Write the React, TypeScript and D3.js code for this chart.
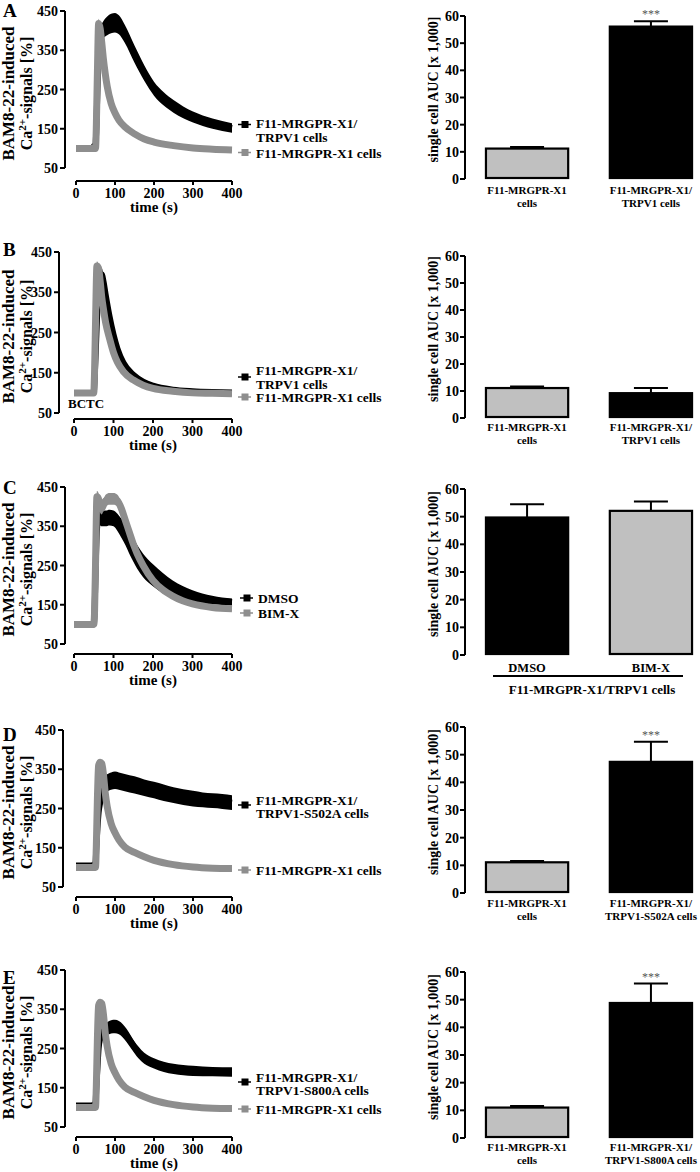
import React from 'react';
import * as d3 from 'd3';

const FONT = '"Liberation Serif", "Times New Roman", serif';
const BLACK = '#000000';
const GRAY = '#8e8e8e';
const BAR_GRAY = '#c0c0c0';

// ---------- line chart data (time in s, signal in %) ----------
const tA_trpv = [0, 44, 46, 50, 52, 55, 58, 62, 66, 70, 80, 90, 100, 110, 125, 150, 175, 200, 225, 250, 275, 300, 350, 400];
const mA_trpv = [100, 100, 107, 107, 150, 250, 330, 385, 395, 402, 412, 418, 420, 415, 392, 340, 292, 252, 226, 207, 192, 180, 163, 152];
const sA_trpv = [2, 2, 2, 2, 40, 50, 40, 25, 22, 22, 24, 25, 25, 24, 23, 22, 20, 18, 17, 16, 15, 14, 13, 12];

const tA_x1 = [0, 44, 50, 52, 55, 58, 62, 66, 70, 75, 80, 90, 100, 110, 125, 150, 175, 200, 250, 300, 350, 400];
const mA_x1 = [100, 100, 100, 150, 300, 418, 405, 370, 330, 290, 258, 215, 190, 172, 155, 137, 124, 116, 107, 101, 98, 96];
const sA_x1 = [3, 3, 3, 40, 60, 12, 8, 7, 6, 6, 5, 5, 4, 4, 4, 3, 3, 3, 3, 3, 3, 3];

const tB_trpv = [0, 44, 46, 50, 52, 55, 58, 62, 66, 70, 75, 80, 90, 100, 110, 125, 150, 175, 200, 250, 300, 350, 400];
const mB_trpv = [100, 100, 100, 100, 130, 200, 280, 350, 390, 395, 375, 345, 290, 245, 210, 175, 145, 128, 118, 108, 104, 102, 101];
const sB_trpv = [2, 2, 2, 2, 30, 40, 40, 30, 20, 15, 15, 15, 13, 12, 10, 8, 6, 5, 4, 3, 3, 3, 3];

const tB_x1 = [0, 44, 50, 52, 55, 58, 62, 66, 70, 75, 80, 90, 100, 110, 125, 150, 175, 200, 250, 300, 350, 400];
const mB_x1 = [100, 100, 100, 150, 300, 415, 410, 380, 340, 305, 275, 235, 200, 176, 153, 132, 119, 111, 104, 100, 99, 98];
const sB_x1 = [3, 3, 3, 40, 60, 12, 10, 8, 7, 6, 6, 5, 5, 4, 4, 3, 3, 3, 3, 3, 3, 3];

const tC_dmso = [0, 44, 50, 52, 55, 58, 62, 66, 70, 80, 90, 100, 110, 120, 130, 140, 150, 160, 175, 200, 225, 250, 275, 300, 350, 400];
const mC_dmso = [100, 100, 100, 130, 250, 340, 370, 372, 370, 370, 372, 370, 360, 345, 328, 308, 290, 272, 250, 225, 205, 190, 180, 172, 162, 157];
const sC_dmso = [2, 2, 2, 30, 50, 40, 20, 20, 20, 20, 20, 20, 22, 24, 26, 28, 30, 30, 30, 28, 26, 22, 18, 15, 11, 9];

const tC_bim = [0, 44, 50, 52, 55, 58, 62, 66, 70, 75, 80, 90, 100, 110, 120, 130, 140, 150, 160, 175, 200, 225, 250, 275, 300, 350, 400];
const mC_bim = [100, 100, 100, 130, 280, 425, 420, 400, 395, 405, 415, 420, 420, 415, 395, 365, 335, 305, 280, 250, 212, 188, 172, 160, 152, 143, 140];
const sC_bim = [3, 3, 3, 30, 50, 15, 15, 15, 15, 15, 15, 15, 15, 15, 15, 14, 13, 12, 11, 10, 9, 8, 7, 6, 6, 5, 5];

const tD_s502 = [0, 44, 46, 50, 52, 55, 58, 62, 66, 70, 75, 80, 90, 100, 110, 125, 150, 175, 200, 225, 250, 275, 300, 325, 350, 375, 400];
const mD_s502 = [105, 105, 108, 108, 150, 200, 240, 265, 285, 300, 310, 315, 320, 322, 320, 316, 310, 303, 297, 290, 284, 279, 275, 272, 270, 268, 265];
const sD_s502 = [2, 2, 2, 2, 40, 40, 40, 22, 22, 22, 22, 22, 22, 22, 22, 22, 22, 21, 21, 21, 20, 20, 20, 19, 19, 19, 19];

const tD_x1 = [0, 44, 50, 52, 55, 58, 62, 66, 70, 75, 80, 90, 100, 110, 125, 150, 175, 200, 250, 300, 350, 400];
const mD_x1 = [100, 100, 100, 150, 280, 360, 368, 365, 340, 290, 255, 212, 188, 170, 152, 138, 127, 118, 107, 101, 98, 97];
const sD_x1 = [3, 3, 3, 40, 50, 8, 8, 8, 7, 6, 5, 5, 4, 4, 4, 3, 3, 3, 3, 3, 3, 3];

const tE_s800 = [0, 44, 46, 50, 52, 55, 58, 62, 66, 70, 75, 80, 90, 100, 110, 120, 130, 140, 150, 160, 175, 200, 225, 250, 275, 300, 350, 400];
const mE_s800 = [105, 105, 108, 108, 150, 200, 250, 275, 285, 290, 295, 300, 305, 306, 303, 295, 283, 268, 253, 240, 225, 212, 203, 198, 195, 193, 191, 190];
const sE_s800 = [2, 2, 2, 2, 40, 40, 40, 18, 17, 17, 17, 17, 17, 17, 17, 17, 17, 16, 15, 15, 14, 13, 13, 13, 13, 13, 12, 12];

const tE_x1 = [0, 44, 50, 52, 55, 58, 62, 66, 70, 75, 80, 90, 100, 110, 125, 150, 175, 200, 250, 300, 350, 400];
const mE_x1 = [100, 100, 100, 150, 280, 360, 368, 365, 340, 290, 255, 212, 188, 170, 152, 138, 127, 118, 107, 101, 98, 97];
const sE_x1 = [3, 3, 3, 40, 50, 8, 8, 8, 7, 6, 5, 5, 4, 4, 4, 3, 3, 3, 3, 3, 3, 3];

const lineYTicks = [50, 150, 250, 350, 450];
const lineXTicks = [0, 100, 200, 300, 400];

// ---------- bar chart data (single cell AUC x1000) ----------
const barYTicks = [0, 10, 20, 30, 40, 50, 60];
const catsA = ['F11-MRGPR-X1|cells', 'F11-MRGPR-X1/|TRPV1 cells'];
const valsA = [11.2, 56.1];
const errA = [0.6, 2.0];
const catsB = ['F11-MRGPR-X1|cells', 'F11-MRGPR-X1/|TRPV1 cells'];
const valsB = [11.1, 9.2];
const errB = [0.6, 1.9];
const catsC = ['DMSO', 'BIM-X'];
const valsC = [49.7, 52.1];
const errC = [4.8, 3.4];
const catsD = ['F11-MRGPR-X1|cells', 'F11-MRGPR-X1/|TRPV1-S502A cells'];
const valsD = [11.1, 47.4];
const errD = [0.5, 7.3];
const catsE = ['F11-MRGPR-X1|cells', 'F11-MRGPR-X1/|TRPV1-S800A cells'];
const valsE = [11.0, 48.8];
const errE = [0.6, 7.0];

type Series = { t: number[]; m: number[]; s: number[]; color: string; w: number };
type LegendItem = { color: string; markerY: number; lines: { text: string; y: number }[] };

function LineChart(p: {
  axisX: number; x0: number; x1: number; yTop: number; yBot: number; xAxisY: number;
  series: Series[]; legend: LegendItem[]; legendX: number; extra?: React.ReactNode;
}) {
  const x = d3.scaleLinear().domain([0, 400]).range([p.x0, p.x1]);
  const y = d3.scaleLinear().domain([50, 450]).range([p.yBot, p.yTop]);
  const midY = (p.yTop + p.yBot) / 2 + 4;
  return (
    <g>
      {p.series.map((s, k) => {
        const area = d3.area<number>()
          .x((_, i) => x(s.t[i]))
          .y0((d, i) => y(d - s.s[i]))
          .y1((d, i) => y(d + s.s[i]))
          .curve(d3.curveMonotoneX)(s.m);
        const line = d3.line<number>()
          .x((_, i) => x(s.t[i]))
          .y((d) => y(d))
          .curve(d3.curveMonotoneX)(s.m);
        return (
          <g key={k}>
            <path d={area || ''} fill={s.color} />
            <path d={line || ''} fill="none" stroke={s.color} strokeWidth={s.w} />
          </g>
        );
      })}
      {/* y axis */}
      <line x1={p.axisX} x2={p.axisX} y1={p.yTop} y2={p.yBot} stroke="#000" strokeWidth={2} />
      {lineYTicks.map((v) => (
        <g key={v}>
          <line x1={p.axisX - 5} x2={p.axisX} y1={y(v)} y2={y(v)} stroke="#000" strokeWidth={2} />
          <text x={p.axisX - 7} y={y(v) + 5} textAnchor="end" fontSize={14} fontWeight="bold">{v}</text>
        </g>
      ))}
      {/* x axis */}
      <line x1={p.x0} x2={p.x1} y1={p.xAxisY} y2={p.xAxisY} stroke="#000" strokeWidth={2} />
      {lineXTicks.map((v) => (
        <g key={v}>
          <line x1={x(v)} x2={x(v)} y1={p.xAxisY} y2={p.xAxisY + 4} stroke="#000" strokeWidth={2} />
          <text x={x(v)} y={p.xAxisY + 17} textAnchor="middle" fontSize={14} fontWeight="bold">{v}</text>
        </g>
      ))}
      <text x={(p.x0 + p.x1) / 2} y={p.xAxisY + 31} textAnchor="middle" fontSize={15} fontWeight="bold">time (s)</text>
      {/* y title */}
      <text transform={`translate(14,${midY}) rotate(-90)`} textAnchor="middle" fontSize={17} fontWeight="bold">BAM8-22-induced</text>
      <text transform={`translate(32,${midY}) rotate(-90)`} textAnchor="middle" fontSize={16} fontWeight="bold">
        Ca<tspan fontSize={11} dy={-6}>2+</tspan><tspan dy={6}>-signals [%]</tspan>
      </text>
      {/* legend */}
      {p.legend.map((l, k) => (
        <g key={k}>
          <line x1={p.legendX} x2={p.legendX + 13} y1={l.markerY} y2={l.markerY} stroke={l.color} strokeWidth={1.5} />
          <rect x={p.legendX + 3.5} y={l.markerY - 3.5} width={7} height={7} fill={l.color} />
          {l.lines.map((ln, j) => (
            <text key={j} x={p.legendX + 18} y={ln.y} fontSize={13.5} fontWeight="bold">{ln.text}</text>
          ))}
        </g>
      ))}
      {p.extra}
    </g>
  );
}

function BarChart(p: {
  yTop: number; yBot: number; cats: string[]; vals: number[]; errs: number[]; fills: string[];
  stars: boolean[]; labelDy: number; catFont: number; group?: string;
}) {
  const axisX = 465;
  const x = d3.scaleBand().domain(p.cats).range([466, 712]).paddingInner(0.32).paddingOuter(0.153);
  const y = d3.scaleLinear().domain([0, 60]).range([p.yBot, p.yTop]);
  const bw = x.bandwidth();
  const capW = 34;
  const midY = (p.yTop + p.yBot) / 2 - 8;
  return (
    <g>
      {p.cats.map((c, i) => {
        const bx = x(c) as number;
        const cx = bx + bw / 2;
        const top = y(p.vals[i]);
        const capY = y(p.vals[i] + p.errs[i]);
        const lines = c.split('|');
        return (
          <g key={c}>
            <line x1={cx} x2={cx} y1={top} y2={capY} stroke="#000" strokeWidth={2} />
            <line x1={cx - capW / 2} x2={cx + capW / 2} y1={capY} y2={capY} stroke="#000" strokeWidth={2} />
            <rect x={bx + 1} y={top} width={bw - 2} height={p.yBot - top - 1} fill={p.fills[i]} stroke="#000" strokeWidth={2.2} />
            {p.stars[i] && (
              <text x={cx} y={capY - 3} textAnchor="middle" fontSize={12} fill="#555">***</text>
            )}
            {lines.map((ln, j) => (
              <text key={j} x={cx} y={p.yBot + p.labelDy + j * 13} textAnchor="middle" fontSize={p.catFont} fontWeight="bold">{ln}</text>
            ))}
          </g>
        );
      })}
      <line x1={axisX} x2={axisX} y1={p.yTop} y2={p.yBot} stroke="#000" strokeWidth={2} />
      {barYTicks.map((v) => (
        <g key={v}>
          <line x1={axisX - 5} x2={axisX} y1={y(v)} y2={y(v)} stroke="#000" strokeWidth={2} />
          <text x={axisX - 6} y={y(v) + 5} textAnchor="end" fontSize={14} fontWeight="bold">{v}</text>
        </g>
      ))}
      <text transform={`translate(438,${midY}) rotate(-90)`} textAnchor="middle" fontSize={14} fontWeight="bold">single cell AUC [x 1,000]</text>
      {p.group && (
        <g>
          <line x1={493} x2={683} y1={p.yBot + 21} y2={p.yBot + 21} stroke="#000" strokeWidth={2} />
          <text x={592} y={p.yBot + 39} textAnchor="middle" fontSize={13} fontWeight="bold">{p.group}</text>
        </g>
      )}
    </g>
  );
}

export default function App() {
  const trpvLegend = (my: number, y1: number, y2: number, second: string): LegendItem => ({
    color: BLACK, markerY: my, lines: [{ text: 'F11-MRGPR-X1/', y: y1 }, { text: second, y: y2 }],
  });
  const x1Legend = (my: number): LegendItem => ({
    color: GRAY, markerY: my, lines: [{ text: 'F11-MRGPR-X1 cells', y: my + 5 }],
  });
  const blk = (t: number[], m: number[], s: number[]): Series => ({ t, m, s, color: BLACK, w: 6 });
  const gry = (t: number[], m: number[], s: number[]): Series => ({ t, m, s, color: GRAY, w: 7 });
  return (
    <svg width={700} height={1172} style={{ position: 'absolute', left: 0, top: 0, background: '#fff' }} fontFamily={FONT}>
      <rect x={0} y={0} width={700} height={1172} fill="#fff" />
      {/* Panel letters */}
      {[['A', 17], ['B', 256], ['C', 494], ['D', 741], ['E', 984]].map(([l, yy]) => (
        <text key={l as string} x={3} y={yy as number} fontSize={19} fontWeight="bold">{l}</text>
      ))}

      {/* A */}
      <LineChart axisX={65} x0={76} x1={232} yTop={11} yBot={168} xAxisY={181}
        series={[blk(tA_trpv, mA_trpv, sA_trpv), gry(tA_x1, mA_x1, sA_x1)]}
        legend={[trpvLegend(124.5, 128, 142, 'TRPV1 cells'), x1Legend(152.5)]} legendX={238} />
      <BarChart yTop={16} yBot={179} cats={catsA} vals={valsA} errs={errA} fills={[BAR_GRAY, BLACK]} stars={[false, true]} labelDy={15} catFont={11} />

      {/* B */}
      <LineChart axisX={59} x0={74} x1={232} yTop={252} yBot={413} xAxisY={419}
        series={[blk(tB_trpv, mB_trpv, sB_trpv), gry(tB_x1, mB_x1, sB_x1)]}
        legend={[trpvLegend(377, 375, 389, 'TRPV1 cells'), x1Legend(397)]} legendX={238}
        extra={<text x={68} y={408} fontSize={13} fontWeight="bold">BCTC</text>} />
      <BarChart yTop={256} yBot={418} cats={catsB} vals={valsB} errs={errB} fills={[BAR_GRAY, BLACK]} stars={[false, false]} labelDy={13} catFont={11} />

      {/* C */}
      <LineChart axisX={65} x0={74} x1={232} yTop={487} yBot={644} xAxisY={654}
        series={[blk(tC_dmso, mC_dmso, sC_dmso), gry(tC_bim, mC_bim, sC_bim)]}
        legend={[{ color: BLACK, markerY: 598, lines: [{ text: 'DMSO', y: 603 }] }, { color: GRAY, markerY: 613, lines: [{ text: 'BIM-X', y: 618 }] }]} legendX={240} />
      <BarChart yTop={489} yBot={655} cats={catsC} vals={valsC} errs={errC} fills={[BLACK, BAR_GRAY]} stars={[false, false]} labelDy={17} catFont={12.5} group="F11-MRGPR-X1/TRPV1 cells" />

      {/* D */}
      <LineChart axisX={63} x0={76} x1={232} yTop={730} yBot={887} xAxisY={897}
        series={[blk(tD_s502, mD_s502, sD_s502), gry(tD_x1, mD_x1, sD_x1)]}
        legend={[trpvLegend(805, 805, 818, 'TRPV1-S502A cells'), x1Legend(870)]} legendX={238} />
      <BarChart yTop={727} yBot={893} cats={catsD} vals={valsD} errs={errD} fills={[BAR_GRAY, BLACK]} stars={[false, true]} labelDy={14} catFont={11} />

      {/* E */}
      <LineChart axisX={65} x0={76} x1={232} yTop={970} yBot={1127} xAxisY={1137}
        series={[blk(tE_s800, mE_s800, sE_s800), gry(tE_x1, mE_x1, sE_x1)]}
        legend={[trpvLegend(1082, 1082, 1095, 'TRPV1-S800A cells'), x1Legend(1109)]} legendX={238} />
      <BarChart yTop={972} yBot={1138} cats={catsE} vals={valsE} errs={errE} fills={[BAR_GRAY, BLACK]} stars={[false, true]} labelDy={13} catFont={11} />
    </svg>
  );
}
